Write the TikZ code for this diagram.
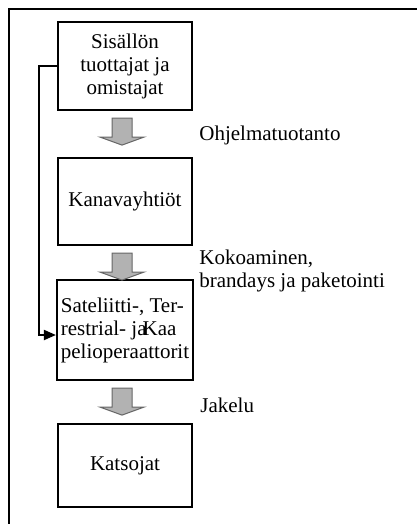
\documentclass[tikz,border=0pt]{standalone}
\usepackage{fontspec}
\setmainfont{Liberation Serif}
\usetikzlibrary{calc, positioning, arrows.meta}

\tikzset{
  box/.style={shape=rectangle, minimum width=134pt, draw=black, fill=white, line width=2.2pt, inner sep=1pt, align=center, font=\fontsize{21}{23}\selectfont},
  lbl/.style={anchor=west, inner sep=2pt, align=left, font=\fontsize{21}{23}\selectfont},
  garrow/.style={fill=black!30, draw=black!60, line width=1pt}
}

\begin{document}
\begin{tikzpicture}[x=1pt, y=-1pt, thick]
\clip (0,0) rectangle (417,524);
% outer frame, runs off the page on the right and bottom
\draw[line width=2pt] (9,540) -- (9,9) -- (430,9);

\node[box, minimum height=88pt] (s) at (125,66) {Sisällön\\tuottajat ja\\omistajat};
\node[box, minimum height=87pt] (k) at (125,201.5) {Kanavayhtiöt};
\node[box, minimum height=100pt, minimum width=136pt, align=left] (o) at (125,330) {Sateliitti-, Ter-\\restrial- ja\kern-4pt Kaa\\pelioperaattorit};
\node[box, minimum height=83pt] (c) at (125,465.5) {Katsojat};

% gray block arrows between the boxes
\foreach \a/\b in {s/k, k/o, o/c}{
	\draw[garrow] ($(\a.south)+(-13,7)$) -- ++(20,0) -- ++(0,19) -- ++(12,0) -- ++(-22,8) -- ++(-22,-8) -- ++(12,0) -- cycle;
}

\node[lbl] (prod) at (197,135) {Ohjelmatuotanto};
\node[lbl] (pack) at (197,271) {Kokoaminen,\\brandays ja paketointi};
\node[lbl] (dist) at (198,405) {Jakelu};

% feedback line from the producers to the operators
\draw[line width=2pt, -{Triangle[length=12pt,width=10pt]}] (s.west) -- ++(-18,0) |- ($(o.west)+(0,5)$);
\end{tikzpicture}
\end{document}
